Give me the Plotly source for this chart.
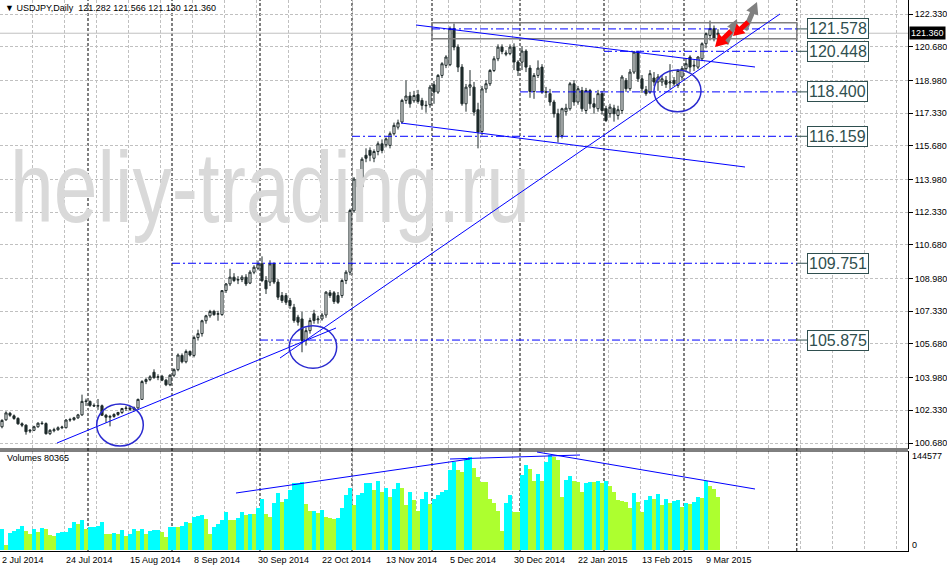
import math
import plotly.graph_objects as go

# ---------------- data ----------------
opens = [101.50,101.85,102.18,102.05,101.92,101.65,101.58,101.28,101.32,101.50,101.68,101.66,101.15,101.30,101.35,101.45,101.45,101.84,101.86,101.95,
         102.10,102.80,102.78,102.58,102.55,102.56,102.08,101.98,102.02,102.12,102.22,102.42,102.44,102.38,102.45,102.88,103.78,103.88,104.25,104.00,
         104.05,103.85,103.62,104.10,104.38,105.10,104.78,105.30,105.10,106.00,106.20,106.85,107.10,107.32,107.18,107.16,108.37,108.71,109.05,108.90,
         108.93,109.05,108.75,109.30,109.50,109.72,108.88,108.80,109.72,108.80,108.12,108.12,107.87,107.53,107.03,106.94,105.85,106.35,107.20,106.90,
         106.94,107.14,108.26,108.26,108.12,108.12,108.88,109.30,112.40,114.00,113.60,115.20,115.45,115.05,115.39,115.78,115.73,115.70,116.29,116.62,
         116.88,117.97,118.19,117.95,118.26,117.97,117.70,117.75,118.76,118.39,119.23,119.74,119.77,121.59,120.66,119.65,117.80,118.64,118.64,117.50,
         116.40,118.55,118.81,119.48,120.07,120.66,120.30,120.33,120.66,119.91,119.90,120.46,119.60,118.42,119.23,119.65,118.40,118.31,117.89,117.30,
         116.20,117.40,117.55,118.81,117.89,118.47,117.46,118.47,117.80,117.55,118.31,117.55,117.30,117.58,117.21,117.46,118.98,118.56,119.40,120.41,
         119.06,118.51,118.39,119.10,118.90,118.90,118.98,118.85,118.98,118.73,119.15,119.57,120.16,119.70,119.65,120.07,120.83,121.25,121.59,121.282]
highs = [101.88,102.28,102.25,102.12,101.98,101.72,101.62,101.38,101.55,101.72,101.78,101.72,101.38,101.45,101.52,101.55,101.88,101.95,102.00,102.15,
         103.12,102.92,102.82,102.68,102.90,102.62,102.15,102.10,102.18,102.25,102.45,102.55,102.55,102.52,102.92,103.85,103.95,104.10,104.40,104.15,
         104.12,103.92,104.15,104.45,105.20,105.20,105.40,105.35,106.10,106.40,106.90,107.15,107.40,107.40,107.35,108.40,108.75,109.47,109.25,109.10,
         109.15,109.20,109.40,109.65,109.89,110.10,109.10,109.90,109.80,108.95,108.30,108.25,108.00,107.70,107.15,107.30,106.50,107.00,107.40,107.10,
         107.25,108.35,108.40,108.35,108.30,108.95,109.40,112.50,114.10,114.20,115.10,115.55,115.60,115.50,115.90,116.00,116.10,116.40,116.85,117.00,
         118.05,118.98,118.40,118.45,118.50,118.10,117.95,118.75,118.95,119.30,119.90,120.25,121.70,121.85,120.80,119.80,118.80,119.50,118.90,117.85,
         118.70,119.00,119.55,120.20,120.80,120.80,120.50,120.80,120.85,120.00,120.70,120.55,119.75,119.35,119.99,119.80,118.65,118.55,118.00,117.55,
         117.60,117.80,118.90,119.00,118.70,118.65,118.60,118.55,118.10,118.50,118.45,117.70,117.80,117.75,117.70,119.25,119.10,119.55,120.45,120.47,
         119.25,118.70,119.50,119.40,119.30,119.25,119.20,119.80,119.15,119.55,119.70,120.10,120.25,120.00,120.20,120.90,121.40,122.00,121.75,121.566]
lows = [101.42,101.80,102.00,101.85,101.60,101.48,101.10,101.18,101.28,101.45,101.60,101.10,101.08,101.22,101.30,101.38,101.42,101.75,101.80,101.90,
        102.05,102.55,102.50,102.50,102.35,102.05,101.70,101.52,101.95,102.05,102.15,102.30,102.30,102.28,102.40,102.85,103.65,103.80,103.92,103.85,
        103.80,103.55,103.55,104.00,104.30,104.70,104.70,105.05,105.00,105.85,106.05,106.70,107.00,107.10,106.85,107.10,108.25,108.60,108.80,108.70,
        108.80,108.60,108.70,109.20,109.40,108.80,108.20,108.60,108.70,107.90,107.75,107.65,107.45,106.75,106.60,105.26,105.60,106.20,106.70,106.70,
        106.85,107.00,108.00,107.70,107.70,108.00,108.70,109.15,112.30,113.40,113.50,114.85,114.90,114.85,115.20,115.30,115.60,115.55,116.20,116.50,
        116.80,117.80,117.60,117.85,117.80,117.50,117.35,117.60,117.80,118.30,119.10,119.60,119.70,120.50,119.40,117.70,117.40,118.20,117.20,115.55,
        116.20,118.35,118.70,119.40,119.95,120.30,120.20,120.25,119.50,119.20,119.50,119.40,118.10,118.05,119.10,118.30,118.10,117.70,117.10,115.85,
        116.05,117.20,117.45,117.70,117.75,117.40,117.30,117.55,117.30,117.40,117.25,116.88,117.10,116.90,117.00,117.30,118.40,118.45,119.30,118.90,
        118.35,118.20,118.30,118.70,118.45,118.70,118.60,118.55,118.70,118.60,119.00,119.45,119.40,119.45,119.55,119.95,120.60,121.00,120.95,121.130]
closes = [101.82,102.20,102.08,101.92,101.65,101.58,101.25,101.32,101.50,101.68,101.66,101.15,101.32,101.35,101.45,101.48,101.84,101.86,101.95,102.10,
          102.78,102.78,102.58,102.55,102.56,102.08,101.98,102.02,102.12,102.22,102.42,102.44,102.38,102.45,102.88,103.78,103.88,104.02,103.98,104.02,
          103.85,103.62,104.10,104.38,105.12,104.78,105.30,105.12,106.00,106.20,106.85,107.10,107.32,107.16,107.20,108.37,108.71,109.05,108.88,108.93,
          109.05,108.71,109.30,109.55,109.72,108.88,108.46,109.72,108.80,108.04,107.87,107.78,107.62,106.86,106.78,105.85,106.35,106.86,106.86,106.94,
          107.14,108.29,108.12,107.82,107.78,108.88,109.30,112.41,114.00,113.60,115.00,115.05,115.20,115.39,115.78,115.44,116.03,116.29,116.71,116.84,
          117.97,118.19,117.80,118.22,117.92,117.72,117.72,118.64,118.39,119.23,119.82,120.16,121.59,120.66,119.65,117.80,118.64,118.76,117.38,116.37,
          118.55,118.81,119.48,120.07,120.66,120.44,120.36,120.66,119.91,119.48,120.46,119.65,118.42,119.23,119.60,118.39,118.39,117.89,117.30,116.12,
          117.55,117.58,118.81,117.89,118.56,117.55,118.47,117.80,117.63,118.31,117.46,116.96,117.63,117.30,117.50,119.15,118.56,119.40,120.41,119.06,
          118.56,118.31,119.32,118.90,119.15,119.06,118.78,118.90,118.81,119.48,119.57,119.82,119.65,119.74,120.16,120.83,121.34,121.59,121.08,121.360]
volumes = [31.4,7.1,26.4,29.4,31.4,36.5,29.4,24.3,31.9,27.4,33.0,32.5,22.3,20.8,26.4,26.9,27.4,33.5,42.6,39.6,
           45.6,31.9,35.0,35.5,36.0,42.6,24.3,23.8,26.4,24.8,30.4,21.3,23.8,31.9,28.9,31.4,24.3,29.4,29.9,30.4,
           27.9,20.3,35.0,35.5,34.5,36.5,42.6,40.6,50.2,51.7,52.7,47.2,24.3,35.5,39.0,45.6,57.8,45.6,45.1,49.2,
           58.3,53.2,54.8,54.3,63.4,77.1,54.8,49.7,72.0,86.2,73.5,77.1,91.3,101.4,101.9,103.9,70.0,58.8,59.3,56.8,
           60.8,50.7,49.2,47.7,48.7,63.4,83.7,93.8,68.4,83.7,86.2,101.4,102.4,91.3,105.0,87.7,93.8,81.1,92.3,102.4,
           93.8,68.4,87.7,76.0,59.3,77.1,88.7,70.0,77.1,83.7,88.7,91.3,121.7,134.4,121.7,119.2,137.0,141.0,124.2,111.5,
           103.9,103.4,77.1,71.0,59.8,28.4,71.0,83.7,58.3,57.3,114.0,129.3,122.7,105.5,115.6,105.5,134.4,144.5,141.0,137.0,
           81.1,106.5,112.5,105.5,103.0,88.7,101.4,104.0,103.5,105.5,101.4,105.5,97.3,88.7,76.0,74.5,73.5,63.4,87.2,73.5,
           58.3,76.0,82.1,77.1,85.2,68.4,77.1,71.0,75.0,76.0,65.9,72.0,70.0,73.5,81.1,78.6,105.5,97.3,92.3,80.365]
volumes = [v * 1000 for v in volumes]

date_labels = ["2 Jul 2014", "24 Jul 2014", "15 Aug 2014", "8 Sep 2014", "30 Sep 2014", "22 Oct 2014",
               "13 Nov 2014", "5 Dec 2014", "30 Dec 2014", "22 Jan 2015", "13 Feb 2015", "9 Mar 2015"]
date_label_bars = [0, 16, 32, 48, 64, 80, 96, 112, 128, 144, 160, 176]
month_start_bars = [22, 43, 65, 88, 108, 130, 151, 171, 199.2]
price_ticks = [122.33, 120.68, 118.98, 117.33, 115.68, 113.98, 112.33, 110.68, 108.98, 107.33, 105.68, 103.98, 102.33, 100.68]
levels = [121.578, 120.448, 118.400, 116.159, 109.751, 105.875]
level_start_bars = [108, 151, 130, 88, 43, 65]
current_price = 121.360
vol_max = 144577
watermark = "heliy-trading.ru"
title_text = "USDJPY,Daily\u00a0\u00a0121.282 121.566 121.130 121.360"

# ---------------- geometry helpers ----------------
W, H = 947, 567
PR = 908          # right edge of plot area (px)
MAIN_B = 449      # bottom of main panel (px)
VOL_T, VOL_B = 451, 551
XMAX = PR / 4.0   # 4 px per bar
Y_LO, Y_HI = 100.377, 123.037
V_LO, V_HI = -1522, 150664

def px(x):
    return x / W

def py(y):
    return 1 - y / H

def bx(x):      # pixel -> bar units (for drawn objects)
    return x / 4.0

def pp(y):      # pixel -> price (for drawn objects)
    return Y_LO + (MAIN_B - y) * (Y_HI - Y_LO) / MAIN_B

def pv(y):      # pixel -> volume (for drawn objects)
    return V_LO + (VOL_B - y) * (V_HI - V_LO) / (VOL_B - VOL_T)

FONT = "Liberation Sans, Arial, sans-serif"
BLUE = "#0000FF"
DARK = "#2F4F4F"
GRID = "#C0C0C0"

n = len(closes)
xs = [i + 0.5 for i in range(n)]
vol_colors = []
for i, v in enumerate(volumes):
    if i == 0 or v > volumes[i - 1]:
        vol_colors.append("#00FFFF")
    else:
        vol_colors.append("#ADFF2F")

fig = go.Figure()

# watermark (under the candles)
fig.add_trace(go.Scatter(
    x=[bx(10)], y=[pp(197)], mode="text", text=[watermark],
    textposition="middle right",
    textfont=dict(size=100, color="#D9D9D9", family="Liberation Sans, Arial"),
    hoverinfo="skip", showlegend=False, xaxis="x", yaxis="y"))

fig.add_trace(go.Candlestick(
    x=xs, open=opens, high=highs, low=lows, close=closes,
    increasing=dict(line=dict(color="#1E2A2A", width=1), fillcolor="#FFFFFF"),
    decreasing=dict(line=dict(color="#1E2A2A", width=1), fillcolor="#1E2A2A"),
    whiskerwidth=0, showlegend=False, hoverinfo="skip", xaxis="x", yaxis="y"))

fig.add_trace(go.Bar(
    x=xs, y=volumes, marker=dict(color=vol_colors, line=dict(width=0)), width=1.0,
    showlegend=False, hoverinfo="skip", xaxis="x", yaxis="y2"))

shapes = []
for b in month_start_bars:
    shapes.append(dict(type="line", xref="x", yref="paper", x0=b, x1=b, y0=py(VOL_B), y1=1,
                       line=dict(color="black", width=1, dash="3px,2px"), layer="below"))
shapes.append(dict(type="line", xref="paper", yref="paper", x0=0, x1=px(PR), y0=py(MAIN_B), y1=py(MAIN_B),
                   line=dict(color="black", width=1)))
shapes.append(dict(type="line", xref="paper", yref="paper", x0=0, x1=px(PR), y0=py(VOL_T), y1=py(VOL_T),
                   line=dict(color="black", width=1)))
shapes.append(dict(type="line", xref="x", yref="y", x0=0, x1=XMAX, y0=current_price, y1=current_price,
                   line=dict(color=GRID, width=1), layer="below"))
shapes.append(dict(type="rect", xref="x", yref="y", x0=108, x1=199.2, y0=pp(38.7), y1=pp(22.7),
                   line=dict(color="#808080", width=1.5)))
for lv, sb in zip(levels, level_start_bars):
    shapes.append(dict(type="line", xref="x", yref="y", x0=sb, x1=199.2, y0=lv, y1=lv,
                       line=dict(color=BLUE, width=1, dash="8px,3px,2px,3px")))
    shapes.append(dict(type="line", xref="x", yref="y", x0=199.2, x1=bx(807), y0=lv, y1=lv,
                       line=dict(color=DARK, width=1)))
for (xa, ya, xb, yb) in [(416, 25, 755, 67), (401, 123, 745, 167), (57, 443, 336, 328), (280, 358, 780, 14)]:
    shapes.append(dict(type="line", xref="x", yref="y", x0=bx(xa), y0=pp(ya), x1=bx(xb), y1=pp(yb),
                       line=dict(color=BLUE, width=1)))
for (xa, ya, xb, yb) in [(96.7, 404, 143.3, 446), (289.3, 325.7, 336.7, 368.3), (654, 70, 701, 111.7)]:
    shapes.append(dict(type="circle", xref="x", yref="y", x0=bx(xa), y0=pp(yb), x1=bx(xb), y1=pp(ya),
                       line=dict(color="#2A2AD0", width=1.5)))
for (xa, ya, xb, yb) in [(236, 493, 470, 459), (450, 459, 580, 455), (537, 452, 755, 489)]:
    shapes.append(dict(type="line", xref="x", yref="y2", x0=bx(xa), y0=pv(ya), x1=bx(xb), y1=pv(yb),
                       line=dict(color=BLUE, width=1)))

def arrow(tail, tip, shaft_w, head_len, head_w, color):
    (x0, y0), (x1, y1) = tail, tip
    L = math.hypot(x1 - x0, y1 - y0)
    ux, uy = (x1 - x0) / L, (y1 - y0) / L
    nx, ny = -uy, ux
    bxp, byp = x1 - ux * head_len, y1 - uy * head_len
    pts = [(x0 + nx * shaft_w / 2, y0 + ny * shaft_w / 2),
           (bxp + nx * shaft_w / 2, byp + ny * shaft_w / 2),
           (bxp + nx * head_w / 2, byp + ny * head_w / 2),
           (x1, y1),
           (bxp - nx * head_w / 2, byp - ny * head_w / 2),
           (bxp - nx * shaft_w / 2, byp - ny * shaft_w / 2),
           (x0 - nx * shaft_w / 2, y0 - ny * shaft_w / 2)]
    d = "M " + " L ".join(f"{bx(a)},{pp(b)}" for a, b in pts) + " Z"
    return dict(type="path", xref="x", yref="y", path=d, fillcolor=color, line=dict(width=0))

shapes.append(arrow((745, 30), (757, 2), 5, 12, 13, "#808080"))
shapes.append(arrow((726, 44), (737, 19), 5, 11, 12, "#808080"))
shapes.append(arrow((731, 31), (715, 47), 5, 12, 14, "#FF0000"))
shapes.append(arrow((748, 22), (733, 36), 5, 11, 13, "#FF0000"))

annotations = []
annotations.append(dict(xref="paper", yref="paper", x=px(3), y=py(8), xanchor="left", yanchor="middle",
                        text="\u25BC " + title_text, showarrow=False, font=dict(size=9, color="black", family=FONT)))
annotations.append(dict(xref="paper", yref="paper", x=px(5), y=py(458), xanchor="left", yanchor="middle",
                        text=f"Volumes {int(round(volumes[-1]))}", showarrow=False, font=dict(size=9, color="black", family=FONT)))
annotations.append(dict(xref="paper", yref="paper", x=px(910), y=py(456), xanchor="left", yanchor="middle",
                        text=str(vol_max), showarrow=False, font=dict(size=9, color="black", family=FONT)))
annotations.append(dict(xref="paper", yref="paper", x=px(910), y=py(545), xanchor="left", yanchor="middle",
                        text="0", showarrow=False, font=dict(size=9, color="black", family=FONT)))
for lab, b in zip(date_labels, date_label_bars):
    annotations.append(dict(xref="x", yref="paper", x=b, y=py(560), xanchor="left", yanchor="middle",
                            text=lab, showarrow=False, font=dict(size=9, color="black", family=FONT)))
annotations.append(dict(xref="paper", yref="y", x=px(909), y=current_price, xanchor="left", yanchor="middle",
                        text=f"{current_price:.3f}", showarrow=False, bgcolor="black", borderpad=1,
                        font=dict(size=9, color="white", family=FONT)))
for lv in levels:
    annotations.append(dict(xref="x", yref="y", x=bx(807), y=lv, xanchor="left", yanchor="middle",
                            text=f"{lv:.3f}", showarrow=False, bgcolor="white", bordercolor=DARK,
                            borderwidth=1, borderpad=1, font=dict(size=16, color=DARK, family=FONT)))

fig.update_layout(
    width=W, height=H, margin=dict(l=0, r=0, t=0, b=0),
    paper_bgcolor="white", plot_bgcolor="white", showlegend=False,
    xaxis=dict(domain=[0, px(PR)], range=[0, XMAX], anchor="y2", showgrid=True, gridcolor=GRID,
               griddash="3px,2px", gridwidth=1, tick0=0, dtick=8, showticklabels=False, ticks="",
               zeroline=False, showline=True, linecolor="black", linewidth=1,
               rangeslider=dict(visible=False), fixedrange=True),
    yaxis=dict(domain=[py(MAIN_B), 1], range=[Y_LO, Y_HI], side="right", anchor="x",
               tickvals=price_ticks, ticktext=[f"{t:.3f}" for t in price_ticks],
               tickfont=dict(size=9, color="black", family=FONT), ticks="outside", ticklen=4,
               tickcolor="black", showgrid=True, gridcolor=GRID, griddash="3px,2px", gridwidth=1,
               zeroline=False, showline=True, linecolor="black", linewidth=1, fixedrange=True),
    yaxis2=dict(domain=[py(VOL_B), py(VOL_T)], range=[V_LO, V_HI], side="right", anchor="x",
                showticklabels=False, showgrid=False, zeroline=False, showline=True,
                linecolor="black", linewidth=1, ticks="", fixedrange=True),
    bargap=0, boxgap=0.25,
    shapes=shapes, annotations=annotations,
)

post = """
document.body.style.margin = '0';
var gd = document.getElementById('{plot_id}');
gd.querySelectorAll('text').forEach(function (t) {
  if (t.textContent === 'heliy-trading.ru') {
    t.setAttribute('textLength', '520');
    t.setAttribute('lengthAdjust', 'spacingAndGlyphs');
  }
});
"""
fig.write_html("out.html", post_script=post, config={"displayModeBar": False})
